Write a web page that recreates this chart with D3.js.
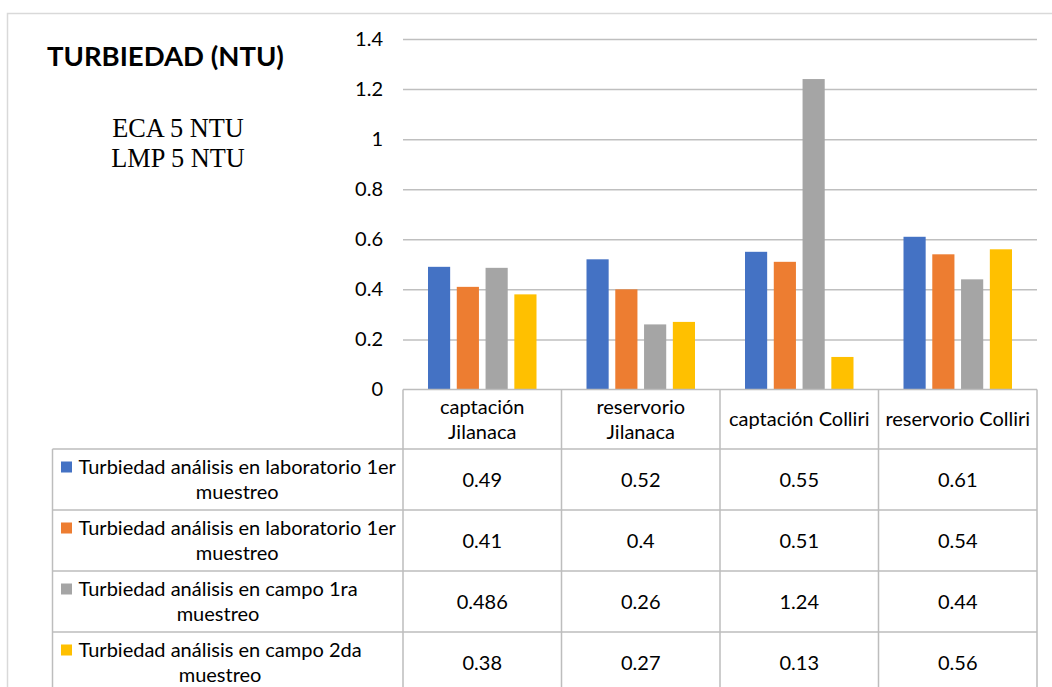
<!DOCTYPE html>
<html>
<head>
<meta charset="utf-8">
<script src="https://cdn.jsdelivr.net/npm/d3@7"></script>
<style>
  html, body { margin: 0; padding: 0; background: #fff; }
  svg { display: block; }
  text { font-family: Lato, "Open Sans", sans-serif; fill: #000; }
</style>
</head>
<body>
<svg id="chart" width="1052" height="687"></svg>
<script>
// Sampling sites (table columns)
const categories = ["captación Jilanaca", "reservorio Jilanaca", "captación Colliri", "reservorio Colliri"];

// Series names (table rows / legend)
const seriesNames = [
  "Turbiedad análisis en laboratorio 1er muestreo",
  "Turbiedad análisis en laboratorio 1er muestreo",
  "Turbiedad análisis en campo 1ra muestreo",
  "Turbiedad análisis en campo 2da muestreo"
];

// Turbidity values (NTU) per series, in category order
const labFirst   = [0.49, 0.52, 0.55, 0.61];
const labSecond  = [0.41, 0.4, 0.51, 0.54];
const fieldFirst = [0.486, 0.26, 1.24, 0.44];
const fieldSecond = [0.38, 0.27, 0.13, 0.56];

// Value labels as printed in the data table
const labFirstText   = ["0.49", "0.52", "0.55", "0.61"];
const labSecondText  = ["0.41", "0.4", "0.51", "0.54"];
const fieldFirstText = ["0.486", "0.26", "1.24", "0.44"];
const fieldSecondText = ["0.38", "0.27", "0.13", "0.56"];

const yTicks = [0, 0.2, 0.4, 0.6, 0.8, 1, 1.2, 1.4];
const seriesColors = ["#4472C4", "#ED7D31", "#A5A5A5", "#FFC000"];

const seriesValues = [labFirst, labSecond, fieldFirst, fieldSecond];
const seriesTexts = [labFirstText, labSecondText, fieldFirstText, fieldSecondText];

const svg = d3.select("#chart");
const FONT = 20;
const gridColor = "#bfbfbf";
const tableColor = "#bdbdbd";

// Outer chart frame
svg.append("path")
  .attr("d", "M7.5,687 L7.5,13.5 L1052,13.5")
  .attr("fill", "none")
  .attr("stroke", "#d9d9d9")
  .attr("stroke-width", 1.5);

// Title and reference limits
svg.append("text")
  .attr("x", 47).attr("y", 66)
  .style("font-weight", "bold")
  .style("font-size", "27.5px")
  .text("TURBIEDAD (NTU)");

const limits = svg.append("g")
  .style("font-size", "26.3px");
limits.append("text").attr("x", 178).attr("y", 137).attr("text-anchor", "middle")
  .style("font-family", "'Liberation Serif', 'Times New Roman', serif").text("ECA 5 NTU");
limits.append("text").attr("x", 178).attr("y", 167).attr("text-anchor", "middle")
  .style("font-family", "'Liberation Serif', 'Times New Roman', serif").text("LMP 5 NTU");

// Scales
const plotLeft = 403, plotRight = 1037;
const x = d3.scaleBand().domain(categories).range([plotLeft, plotRight]).padding(0);
const groupPad = 25;
const xs = d3.scaleBand().domain(d3.range(seriesNames.length))
  .range([groupPad, x.bandwidth() - groupPad]).paddingInner(0.23);
const y = d3.scaleLinear().domain([0, 1.4]).range([389.5, 39]);

// Gridlines
const yAxis = d3.axisLeft(y).tickValues(yTicks)
  .tickSize(-(plotRight - plotLeft))
  .tickPadding(20)
  .tickFormat(d => String(d));
const gy = svg.append("g").attr("transform", `translate(${plotLeft},0)`).call(yAxis);
gy.select(".domain").remove();
gy.selectAll(".tick line").attr("stroke", gridColor).attr("stroke-width", 1.5);
gy.selectAll(".tick text")
  .style("font-family", "Lato, sans-serif")
  .style("font-size", FONT + "px")
  .attr("fill", "#000");
gy.selectAll(".tick").filter(d => d === 0).select("line").remove();

// Bars
const groups = svg.append("g").selectAll("g")
  .data(seriesValues)
  .join("g")
  .attr("fill", (d, i) => seriesColors[i]);
groups.each(function(vals, si) {
  d3.select(this).selectAll("rect")
    .data(vals)
    .join("rect")
    .attr("x", (v, ci) => x(categories[ci]) + xs(si))
    .attr("width", xs.bandwidth())
    .attr("y", v => y(v))
    .attr("height", v => y(0) - y(v));
});

// Data table
const headerTop = y(0), headerBottom = 449;
const rowH = 61;
const tableLeft = 52.5;
const rowTops = seriesNames.map((_, i) => headerBottom + i * rowH);
const tableBottom = headerBottom + seriesNames.length * rowH;

const table = svg.append("g").attr("stroke", tableColor).attr("stroke-width", 1.5).attr("fill", "none");
// horizontal rules
table.append("line").attr("x1", plotLeft).attr("x2", plotRight).attr("y1", headerTop).attr("y2", headerTop);
rowTops.concat([tableBottom]).forEach(t => {
  table.append("line").attr("x1", tableLeft).attr("x2", plotRight).attr("y1", t).attr("y2", t);
});
// vertical rules
categories.forEach(c => {
  table.append("line").attr("x1", x(c)).attr("x2", x(c)).attr("y1", headerTop).attr("y2", tableBottom);
});
table.append("line").attr("x1", plotRight).attr("x2", plotRight).attr("y1", headerTop).attr("y2", tableBottom);
table.append("line").attr("x1", tableLeft).attr("x2", tableLeft).attr("y1", headerBottom).attr("y2", tableBottom);

// word wrap helper using measured widths
const measurer = svg.append("text").style("font-size", FONT + "px").attr("visibility", "hidden");
function textWidth(s) { measurer.text(s); return measurer.node().getComputedTextLength(); }
function wrap(s, maxW) {
  const words = s.split(" ");
  const lines = [];
  let cur = "";
  words.forEach(w => {
    const t = cur ? cur + " " + w : w;
    if (cur && textWidth(t) > maxW) { lines.push(cur); cur = w; } else { cur = t; }
  });
  if (cur) lines.push(cur);
  return lines;
}

const lineGap = 25;
// header labels
categories.forEach(c => {
  const lines = wrap(c, x.bandwidth() - 12);
  const cy = (headerTop + headerBottom) / 2;
  const t = svg.append("text")
    .attr("text-anchor", "middle")
    .style("font-size", FONT + "px");
  lines.forEach((ln, i) => {
    t.append("tspan")
      .attr("x", x(c) + x.bandwidth() / 2)
      .attr("y", cy + (i - (lines.length - 1) / 2) * lineGap)
      .attr("dy", "0.35em")
      .text(ln);
  });
});

// legend cells
const keyX = 61, keySize = 11, textX = 78.5;
seriesNames.forEach((name, si) => {
  const lines = wrap(name, plotLeft - textX - 4);
  const cy = rowTops[si] + rowH / 2;
  const firstY = cy - (lines.length - 1) / 2 * lineGap;
  svg.append("rect")
    .attr("x", keyX).attr("y", firstY - keySize / 2)
    .attr("width", keySize).attr("height", keySize)
    .attr("fill", seriesColors[si]);
  const w0 = textWidth(lines[0]);
  const t = svg.append("text").attr("text-anchor", "middle").style("font-size", FONT + "px");
  lines.forEach((ln, i) => {
    t.append("tspan")
      .attr("x", textX + w0 / 2)
      .attr("y", firstY + i * lineGap)
      .attr("dy", "0.35em")
      .text(ln);
  });
  // values
  seriesTexts[si].forEach((s, ci) => {
    svg.append("text")
      .attr("x", x(categories[ci]) + x.bandwidth() / 2)
      .attr("y", cy)
      .attr("dy", "0.35em")
      .attr("text-anchor", "middle")
      .style("font-size", FONT + "px")
      .text(s);
  });
});
measurer.remove();
</script>
</body>
</html>
